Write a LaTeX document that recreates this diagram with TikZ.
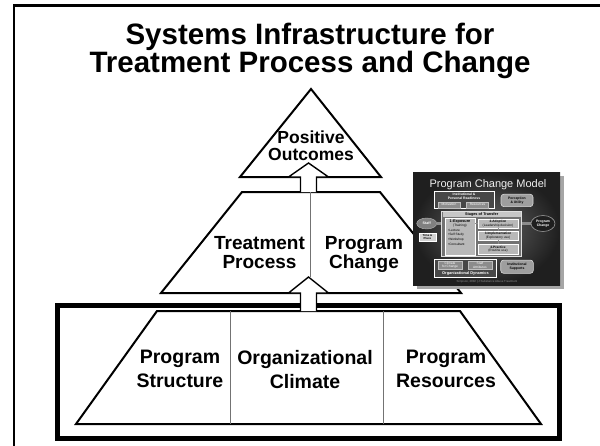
\documentclass[tikz,border=0pt]{standalone}
\usepackage{fontspec}
\setmainfont{Liberation Sans}
\usetikzlibrary{shapes.geometric}
\newcommand\lnstrut{\rule[-0.22em]{0pt}{0.94em}}
\begin{document}
\begin{tikzpicture}[x=1pt,y=-1pt,
  pyr/.style={draw=black,line width=2pt,fill=white,line join=miter},
  divider/.style={draw=black!55,line width=1pt},
  blockarrow/.style={draw=black,line width=1.4pt,fill=white,line join=miter},
  lbl/.style={font=\bfseries\fontsize{19}{19}\selectfont,align=center,inner sep=0pt},
  lblb/.style={font=\bfseries\fontsize{19.5}{24}\selectfont,align=center,inner sep=0pt},
  ttl/.style={font=\bfseries\fontsize{29.5}{28}\selectfont,align=center,inner sep=0pt},
  tx/.style={inner sep=0pt,align=center,font=\fontsize{3.2}{3.5}\selectfont},
  txb/.style={tx,font=\bfseries\fontsize{3.4}{3.6}\selectfont},
  subbox/.style={tx,draw=black!25,fill=black!45,text=white,line width=0.4pt,minimum height=6pt},
  pill/.style={txb,rounded corners=3pt,draw=black!15,fill=black!38,line width=0.6pt,text=black},
  panelbox/.style={draw=white,line width=0.6pt},
  graybar/.style={draw=black!45,line width=2.2pt},
  thinlink/.style={draw=black!45,line width=0.8pt}
]
\useasboundingbox (0,0) rectangle (600,445);
\fill[white] (0,0) rectangle (600,445);
% outer frame (top and left edges visible)
\draw[line width=2.5pt] (14,450) -- (14,5.3) -- (606,5.3);

% title
\node[ttl] (title) at (310,50.6) {\lnstrut Systems Infrastructure for\\\lnstrut Treatment Process and Change};

% top triangle
\draw[pyr] (311,89) -- (381,177) -- (240,177) -- cycle;
% middle trapezoid
\draw[pyr] (242,192) -- (380,192) -- (461,293) -- (161,293) -- cycle;
\coordinate (midtop) at (310,192);
\coordinate (midtip) at (310,277);
\draw[divider] (midtop) -- (midtip);

% bottom thick box and trapezoid
\draw[line width=5pt] (57.5,305.5) rectangle (559.5,438.5);
\draw[pyr] (157,311) -- (460,311) -- (541,424) -- (76,424) -- cycle;
\coordinate (d1t) at (230,311); \coordinate (d1b) at (230,424);
\coordinate (d2t) at (383,311); \coordinate (d2b) at (383,424);
\draw[divider] (d1t) -- (d1b);
\draw[divider] (d2t) -- (d2b);

% block arrows
\draw[blockarrow] (300.5,311) -- (300.5,293) -- (288.5,293) -- (308.5,277) -- (328.5,293) -- (316.5,293) -- (316.5,311);
\draw[blockarrow] (300.5,192) -- (300.5,177) -- (288.5,177) -- (308.5,163) -- (328.5,177) -- (316.5,177) -- (316.5,192);

% labels
\node[font=\bfseries\fontsize{17.5}{17}\selectfont,align=center,inner sep=0pt] (po) at (311,147.1) {\lnstrut Positive\\\lnstrut Outcomes};
\node[lbl] (tp) at (259.5,253.75) {\lnstrut Treatment\\\lnstrut Process};
\node[lbl] (pc) at (364,253.75) {\lnstrut Program\\\lnstrut Change};
\node[lblb] (ps) at (180,371.1) {\lnstrut Program\\\lnstrut Structure};
\node[lblb] (oc) at (305,371.1) {\lnstrut Organizational\\\lnstrut Climate};
\node[lblb] (pr) at (446,371.1) {\lnstrut Program\\\lnstrut Resources};

% ---------- inset: Program Change Model ----------
\fill[black!35] (417,176) rectangle (564,289);
\shade[inner color=black!60, outer color=black!88] (413,172) rectangle (560,285);
\node[inner sep=0pt,anchor=base,text=black!6,font=\fontsize{11}{11}\selectfont] (pcm) at (488,187.3) {Program Change Model};

% readiness
\draw[panelbox,fill=black!72] (434,191.7) rectangle (494,208.3);
\node[txb,text=white] (ready) at (464,196.3) {Institutional \&\\Personal Readiness};
\node[subbox,minimum width=22pt] (motiv) at (449,204.8) {Motivation};
\node[subbox,minimum width=22pt] (resou) at (477.5,204.8) {Resources};
\node[pill,minimum width=32pt,minimum height=12.5pt] (perc) at (517,200.4) {Perception\\\& Utility};

% staff, time
\node[ellipse,draw=black!30,fill=black!50,text=white,font=\bfseries\fontsize{3.6}{3.6}\selectfont,minimum width=20pt,minimum height=11pt,inner sep=0pt] (staff) at (426.7,223.5) {Staff};
\node[txb,fill=black!18,draw=white,line width=0.5pt,minimum width=17pt,minimum height=8pt,font=\bfseries\fontsize{2.9}{3}\selectfont] (time) at (427.5,237) {Time \&\\Place};

% stages
\node[draw=black!12,line width=0.8pt,fill=black!55,minimum width=80pt,minimum height=45pt,inner sep=0pt] (stages) at (481.7,234.2) {};
\node[txb,fill=black!22,minimum width=78pt,minimum height=5pt,font=\bfseries\fontsize{3.8}{3.8}\selectfont] (sot) at (481.7,214.8) {Stages of Transfer};
\node[draw=white,line width=0.5pt,fill=black!28,minimum width=30pt,minimum height=36.5pt,inner sep=0pt] (expo) at (460,236.8) {};
\node[txb,font=\bfseries\fontsize{3.8}{3.8}\selectfont] (e1) at (460,221.7) {1-Exposure};
\node[tx] (e2) at (460,226) {(Training)};
\node[tx,anchor=west] (e3) at (448,230.3) {•Lecture};
\node[tx,anchor=west] (e4) at (448,234.7) {•Self Study};
\node[tx,anchor=west] (e5) at (448,240) {•Workshop};
\node[tx,anchor=west] (e6) at (448,244) {•Consultant};
\node[tx,draw=white,line width=0.5pt,fill=black!28,minimum width=40pt,minimum height=9pt] (adop) at (498,223.5) {\textbf{2-Adoption}\\(Leadership decision)};
\node[tx,draw=white,line width=0.5pt,fill=black!28,minimum width=40pt,minimum height=8.5pt] (impl) at (498,235.8) {\textbf{3-Implementation}\\(Exploratory use)};
\node[tx,draw=white,line width=0.5pt,fill=black!28,minimum width=40pt,minimum height=10pt] (prac) at (498,249) {\textbf{4-Practice}\\(Routine use)};
\draw[thinlink] (expo.east |- adop) -- (adop.west);
\draw[thinlink] (adop.south) -- (impl.north);
\draw[thinlink] (impl.south) -- (prac.north);

% program change
\node[ellipse,draw=black!40,line width=0.6pt,fill=black!88,text=white,txb,minimum width=24pt,minimum height=16pt] (pchg) at (543,223.5) {Program\\Change};
\draw[graybar] (staff.east) -- (stages.west |- staff);
\draw[graybar] (stages.east |- pchg) -- (pchg.west);

% organizational dynamics
\draw[panelbox,fill=black!72] (434.3,259.3) rectangle (496.7,277);
\node[subbox,minimum width=24pt,minimum height=8.5pt] (clim) at (450,265.3) {Climate\\for Change};
\node[subbox,minimum width=24pt,minimum height=8.5pt] (satt) at (480,265.3) {Staff\\Attributes};
\node[txb,text=white,font=\bfseries\fontsize{3.9}{3.9}\selectfont] (orgd) at (465.5,273.6) {Organizational Dynamics};
\node[pill,minimum width=32.6pt,minimum height=13.3pt] (isup) at (517,266.7) {Institutional\\Supports};
\node[tx,text=black!45,font=\fontsize{2.9}{3}\selectfont] (foot) at (487,281.6) {Simpson, 2002 | J Substance Abuse Treatment};
\end{tikzpicture}
\end{document}
